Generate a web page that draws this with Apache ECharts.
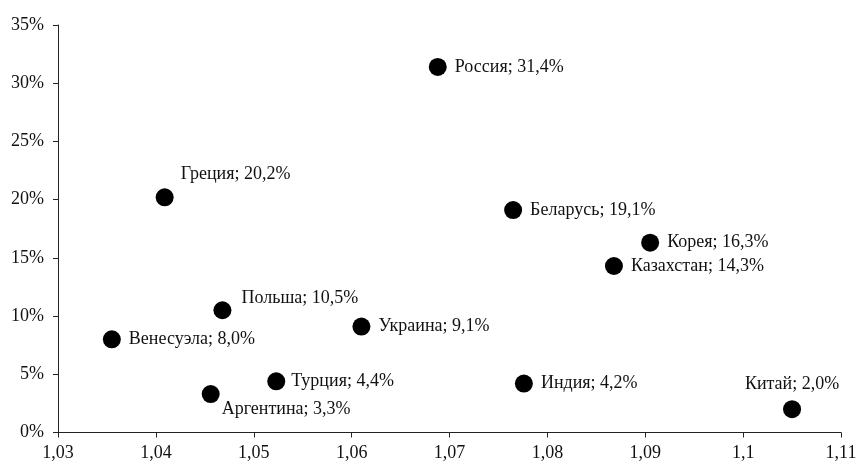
<!DOCTYPE html>
<html>
<head>
<meta charset="utf-8">
<script src="https://cdn.jsdelivr.net/npm/echarts@6/dist/echarts.min.js"></script>
<style>
  html, body { margin: 0; padding: 0; background: #fff; }
  #chart-view { width: 868px; height: 468px; }
</style>
</head>
<body>
<div id="chart-view"></div>
<script>
  // данные
  const countries = ['Россия', 'Греция', 'Беларусь', 'Корея', 'Казахстан', 'Польша', 'Украина', 'Венесуэла', 'Турция', 'Индия', 'Аргентина', 'Китай']
  const xValues = [1.0688, 1.0409, 1.0765, 1.0905, 1.0868, 1.0468, 1.0610, 1.0355, 1.0523, 1.0776, 1.0456, 1.1050]
  const shares = [31.4, 20.2, 19.1, 16.3, 14.3, 10.5, 9.1, 8.0, 4.4, 4.2, 3.3, 2.0]

  // положение подписей (не данные)
  const labelPlace = {
    'Греция': { position: [25, -14], align: 'left', verticalAlign: 'middle' },
    'Польша': { position: [28, -3], align: 'left', verticalAlign: 'middle' },
    'Аргентина': { position: [20, 24], align: 'left', verticalAlign: 'middle' },
    'Турция': { position: 'right', distance: 6 },
    'Китай': { position: 'top', distance: 7 }
  }

  const font = '"Liberation Serif", "Times New Roman", serif'
  const comma = v => String(v).replace('.', ',')

  let chart = echarts.init(document.getElementById('chart-view'))

  let points = countries.map((name, i) => {
    let item = { name: name, value: [xValues[i], shares[i]] }
    if (labelPlace[name]) item.label = labelPlace[name]
    return item
  })

  let option = {
    backgroundColor: '#fff',
    animation: false,
    grid: { left: 58, right: 27, top: 25, bottom: 35.5 },
    xAxis: {
      type: 'value',
      min: 1.03,
      max: 1.11,
      interval: 0.01,
      axisLine: { show: true, onZero: false, lineStyle: { color: '#222', width: 1 } },
      axisTick: { show: true, length: 5, lineStyle: { color: '#222' } },
      splitLine: { show: false },
      axisLabel: {
        margin: 12,
        color: '#111',
        fontFamily: font,
        fontSize: 18,
        formatter: v => comma(Math.round(v * 100) / 100)
      }
    },
    yAxis: {
      type: 'value',
      min: 0,
      max: 35,
      interval: 5,
      axisLine: { show: true, lineStyle: { color: '#222', width: 1 } },
      axisTick: { show: true, length: 5, lineStyle: { color: '#222' } },
      splitLine: { show: false },
      axisLabel: {
        margin: 14,
        color: '#111',
        fontFamily: font,
        fontSize: 18,
        formatter: v => v + '%'
      }
    },
    series: [
      {
        type: 'scatter',
        symbol: 'circle',
        symbolSize: 18,
        itemStyle: { color: '#000', opacity: 1 },
        label: {
          show: true,
          position: 'right',
          distance: 8,
          color: '#111',
          fontFamily: font,
          fontSize: 18,
          formatter: p => p.name + '; ' + p.value[1].toFixed(1).replace('.', ',') + '%'
        },
        data: points
      }
    ]
  }

  chart.setOption(option)
</script>
</body>
</html>
